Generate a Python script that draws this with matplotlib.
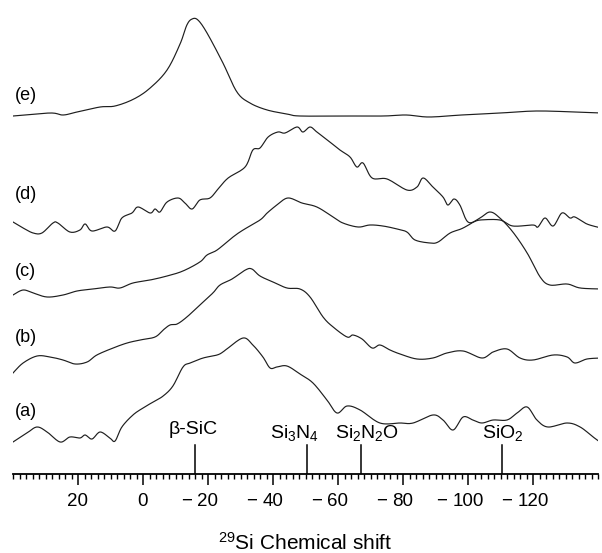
import matplotlib
matplotlib.use("Agg")
import numpy as np
import matplotlib.pyplot as plt
from matplotlib.ticker import MultipleLocator, FixedLocator, FuncFormatter

plt.rcParams['font.family'] = ['Liberation Sans', 'DejaVu Sans']
plt.rcParams['mathtext.fontset'] = 'custom'
plt.rcParams['mathtext.rm'] = 'Liberation Sans'
plt.rcParams['mathtext.it'] = 'Liberation Sans:italic'
plt.rcParams['mathtext.bf'] = 'Liberation Sans:bold'

# 29Si NMR spectra, chemical shift (ppm) vs stacked intensity (arb. units, offset)
shift_a = [40, 35.7, 32.6, 29.5, 25.5, 22.5, 19.4, 17.8, 15.7, 13.2, 10.2, 8.6, 6.5, 3.1, 0,
           -3.1, -6.2, -9.2, -12.3, -14.5, -18.5, -22.8, -24.6, -25.8, -30.8, -33.8, -36.9,
           -39.1, -41.2, -44.3, -48.3, -52.3, -56.6, -59.7, -62.8, -66.8, -72.9, -79.1, -83.1,
           -89.2, -92.3, -95.4, -98.5, -101.5, -104.3, -107.7, -112, -115.1, -118.2, -121.2,
           -124.6, -130.5, -134.5, -138.5, -141]
int_a = [32, 41, 47, 42, 32, 37, 36, 39, 35, 42, 36, 33, 47, 59, 66,
         72, 78, 88, 107, 111, 116, 119, 122, 125, 136, 129, 117,
         106, 107, 108, 100, 91, 74, 61, 68, 64, 51, 51, 51,
         59, 54, 44, 57, 54, 51, 54, 54, 61, 67, 54,
         47, 51, 47, 37, 31]

shift_b = [40, 36.9, 32.6, 28.6, 24.6, 20.9, 17.2, 14.2, 9.2, 4.9, 0.9, -3.7, -6.2, -8.3,
           -10.5, -13.5, -17.5, -21.5, -23.7, -27.4, -31.5, -33.5, -36, -40, -44.3, -48.3,
           -51.4, -55.4, -58.5, -62.8, -64.6, -67.4, -70.5, -72.9, -76, -79.1, -84.3, -89.2,
           -93.5, -98.5, -104.3, -107.7, -112, -116, -120, -126.2, -130.5, -132.9, -136.6, -141]
int_b = [101, 111, 118, 117, 114, 110, 112, 119, 126, 131, 134, 137, 144, 149,
         150, 157, 169, 181, 189, 195, 204, 205, 198, 192, 186, 185,
         177, 157, 147, 137, 139, 135, 126, 129, 124, 120, 115, 116,
         121, 123, 116, 122, 125, 116, 114, 119, 117, 111, 115, 116]

shift_c = [40, 36.9, 33.8, 29.5, 24.6, 20.3, 15.4, 10.2, 7.1, 3.1, -2.2, -7.4, -12.3, -17.5,
           -19.7, -22.8, -27.7, -30.8, -36, -38.2, -41.2, -44.6, -48.9, -53.5, -58.5, -61.5,
           -66.2, -69.8, -73.8, -78.2, -81.2, -83.7, -88.3, -90.8, -94.5, -98.5, -103.7,
           -106.8, -109.8, -113.8, -118.2, -122.2, -125.2, -130.5, -134.5, -141]
int_c = [179, 184, 181, 177, 179, 183, 185, 187, 186, 191, 194, 198, 203, 212,
         219, 224, 237, 244, 254, 261, 269, 276, 271, 267, 257, 251,
         247, 249, 248, 245, 242, 234, 231, 232, 241, 246, 256,
         262, 256, 242, 221, 197, 189, 190, 186, 185]

shift_d = [40, 36.9, 33.8, 31.1, 27.7, 26.2, 22.5, 19.4, 17.8, 15.7, 11.1, 8.6, 6.5, 3.4, 1.5,
           -2.2, -3.7, -5.2, -7.4, -10.8, -12.9, -15.1, -17.5, -20.6, -23.1, -26.2, -31.4,
           -33.8, -36, -38.5, -41.5, -43.7, -47.4, -49.2, -51.4, -53.5, -57.5, -60.6, -63.7,
           -65.8, -67.7, -70.5, -75.1, -81.2, -84.3, -86.2, -89.2, -92.3, -93.8, -95.7, -97.5,
           -100, -103.7, -109.8, -113.8, -120, -121.5, -123.7, -126.2, -128.9, -131.4,
           -132.9, -136.6, -141]
int_d = [252, 246, 241, 241, 251, 251, 242, 244, 250, 243, 247, 243, 256, 261, 267,
         261, 265, 262, 272, 276, 271, 265, 274, 276, 285, 296, 307,
         324, 326, 337, 342, 341, 347, 342, 347, 342, 332, 324, 317,
         307, 311, 296, 295, 284, 287, 296, 287, 277, 269, 275, 269,
         252, 254, 254, 248, 249, 247, 256, 248, 261, 256,
         257, 250, 246]

shift_e = [40, 28.6, 24.6, 20.3, 13.2, 8.6, 2.8, -2.2, -7.4, -11.4, -13.5, -15.1, -16.9, -19.7,
           -24.6, -28.9, -32.9, -38.2, -44.3, -48.3, -62, -74, -81, -88, -98, -110, -121,
           -133, -141]
int_e = [358, 361, 359, 362, 367, 368, 375, 386, 404, 430, 449, 455, 454, 441,
         411, 382, 371, 364, 360, 358, 358, 358, 359, 357, 359, 361, 363,
         362, 361]

spectra = [(shift_a, int_a), (shift_b, int_b), (shift_c, int_c),
           (shift_d, int_d), (shift_e, int_e)]
curve_labels = ['(a)', '(b)', '(c)', '(d)', '(e)']
label_levels = [62, 137, 202, 280, 379]

# reference chemical shifts and where their names sit
ref_names = ['\u03b2-SiC', 'Si$_3$N$_4$', 'Si$_2$N$_2$O', 'SiO$_2$']
ref_shifts = [-16, -50.5, -67, -110.5]
ref_label_x = [-15.4, -46.5, -68.8, -110.6]
ref_label_y = [40, 36, 36, 36]

tick_vals = [20, 0, -20, -40, -60, -80, -100, -120]


def catmull_rom(xs, ys, n=12):
    # smooth curve through the read points
    p = np.column_stack([xs, ys]).astype(float)
    p = np.vstack([p[0], p, p[-1]])
    t = np.linspace(0, 1, n, endpoint=False)[:, None]
    out = []
    for i in range(1, len(p) - 2):
        p0, p1, p2, p3 = p[i - 1], p[i], p[i + 1], p[i + 2]
        seg = 0.5 * ((2 * p1) + (-p0 + p2) * t +
                     (2 * p0 - 5 * p1 + 4 * p2 - p3) * t ** 2 +
                     (-p0 + 3 * p1 - 3 * p2 + p3) * t ** 3)
        out.append(seg)
    out.append(p[-2][None, :])
    out = np.vstack(out)
    return out[:, 0], out[:, 1]


fig = plt.figure(figsize=(6.02, 5.53), dpi=100)
ax = fig.add_axes([13 / 602, 79 / 553, 585 / 602, 474 / 553])

line_col = '#1e1e1e'
for (sx, sy) in spectra:
    cx, cy = catmull_rom(sx, sy)
    ax.plot(cx, cy, color=line_col, lw=0.85)

for lab, lev in zip(curve_labels, label_levels):
    ax.text(39.3, lev, lab, fontsize=13, ha='left', va='center')

for name, s, lx, ly in zip(ref_names, ref_shifts, ref_label_x, ref_label_y):
    ax.plot([s, s], [0, 29], color='black', lw=1.1)
    ax.text(lx, ly, name, fontsize=14, ha='center', va='baseline')

ax.set_xlim(40, -140)
ax.set_ylim(0, 474)

for side in ['top', 'left', 'right']:
    ax.spines[side].set_visible(False)
ax.spines['bottom'].set_linewidth(1.3)
ax.set_yticks([])

ax.xaxis.set_major_locator(FixedLocator(tick_vals))
ax.xaxis.set_minor_locator(MultipleLocator(2))
ax.xaxis.set_major_formatter(FuncFormatter(lambda v, p: '%d' % abs(round(v))))
fs = 13.5
ax.tick_params(axis='x', which='major', direction='out', length=7.7, width=1.1,
               pad=6, labelsize=fs)
ax.tick_params(axis='x', which='minor', direction='out', length=3.4, width=1.0)

# minus signs hang to the left of the digits, digits centred on the tick
for v in tick_vals:
    if v >= 0:
        continue
    ndig = len(str(abs(v)))
    off = ndig * 0.556 * fs / 2 + 4
    ax.annotate('\u2212', xy=(v, 0), xycoords='data',
                xytext=(-off, -(7.7 + 6)), textcoords='offset points',
                ha='right', va='top', fontsize=fs)

fig.text(ax.get_position().x0 + ax.get_position().width / 2, 3 / 553,
         '$^{29}$Si Chemical shift', ha='center', va='baseline', fontsize=15)

fig.savefig('out.png', dpi=100)
